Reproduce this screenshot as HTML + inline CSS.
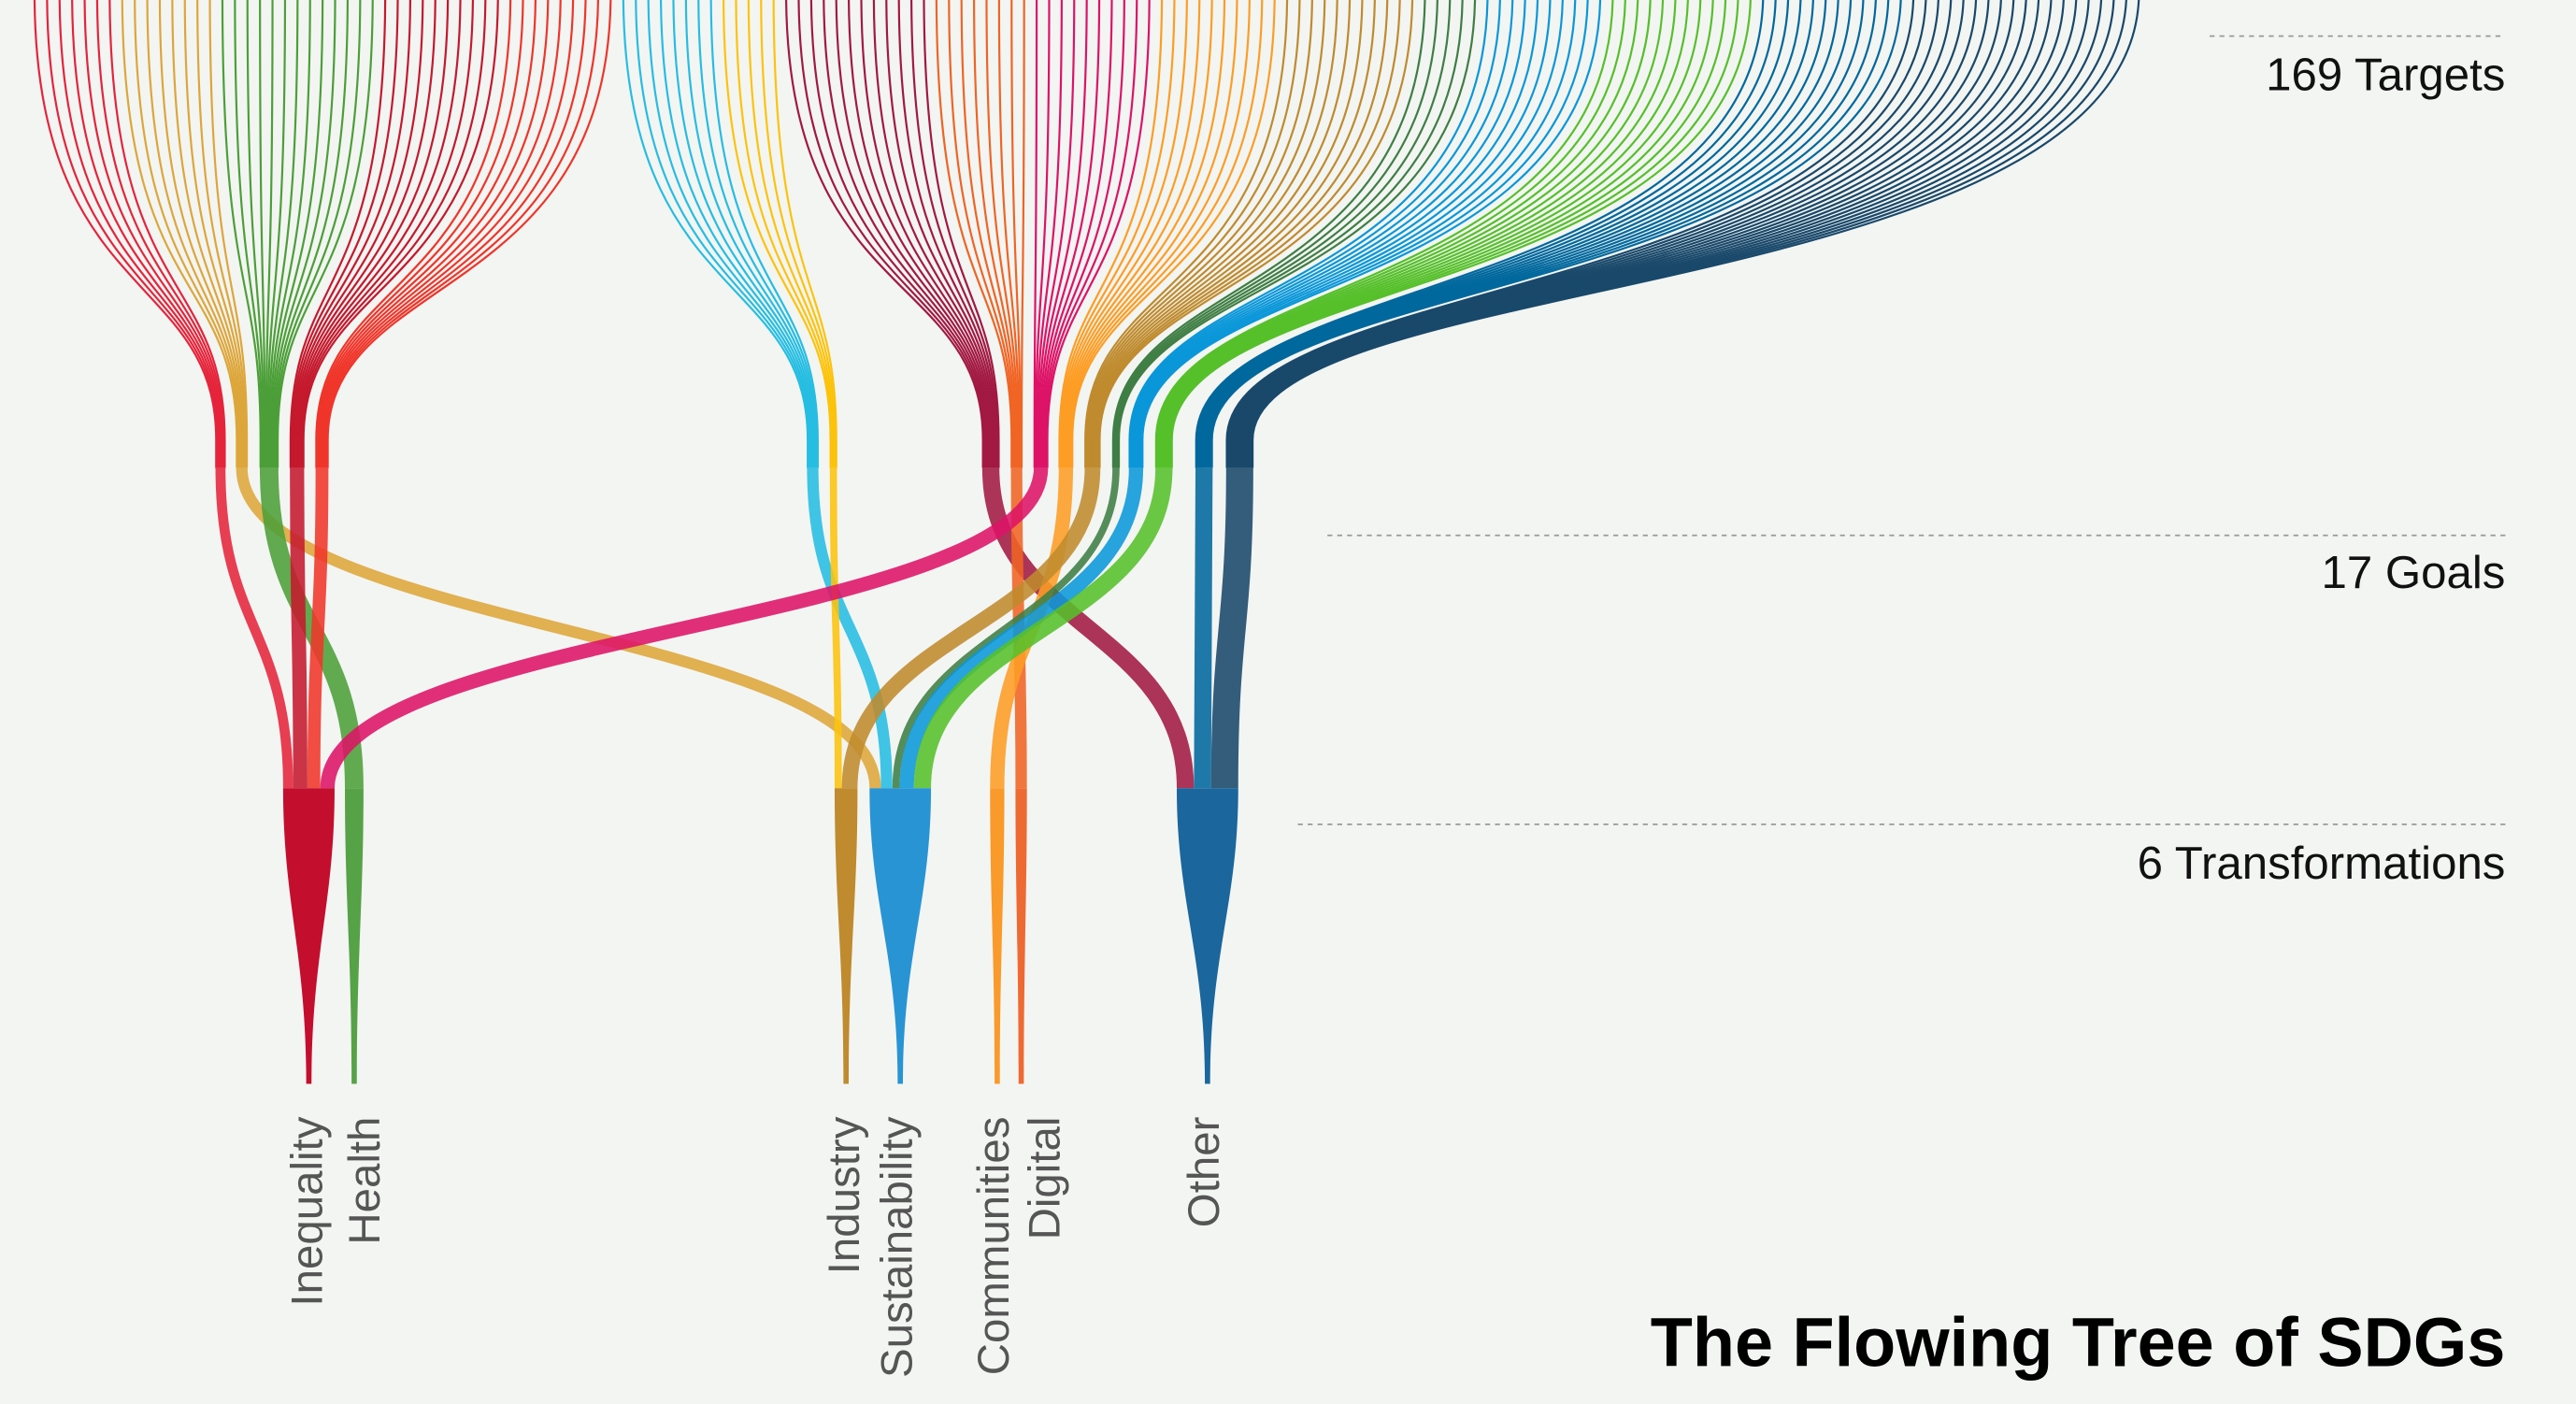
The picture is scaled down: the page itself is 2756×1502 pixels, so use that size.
<!DOCTYPE html>
<html><head><meta charset="utf-8"><style>
html,body{margin:0;padding:0;background:#f3f5f3;}
svg{display:block;}
text{font-family:"Liberation Sans",sans-serif;}
</style></head><body>
<svg id="chart" width="2756" height="1502" viewBox="0 0 1568 855" preserveAspectRatio="none" xmlns="http://www.w3.org/2000/svg">
<rect x="0" y="0" width="1568" height="855" fill="#f3f5f3"/>
<g id="targets"></g>
<g id="goals"></g>
<g id="transforms"></g>
<g id="labels"></g>
<line x1="1345" y1="22" x2="1525" y2="22" stroke="#999" stroke-width="1" stroke-dasharray="3,3"/>
<line x1="808" y1="326" x2="1525" y2="326" stroke="#999" stroke-width="1" stroke-dasharray="3,3"/>
<line x1="790" y1="502" x2="1525" y2="502" stroke="#999" stroke-width="1" stroke-dasharray="3,3"/>
<text x="1525" y="55" text-anchor="end" font-size="28" fill="#111">169 Targets</text>
<text x="1525" y="358" text-anchor="end" font-size="28" fill="#111">17 Goals</text>
<text x="1525" y="535" text-anchor="end" font-size="28" fill="#111">6 Transformations</text>
<text x="1525" y="832" text-anchor="end" font-size="42" font-weight="bold" fill="#000">The Flowing Tree of SDGs</text>
</svg>
<script>
// data
const goalNames = ["Goal 1","Goal 2","Goal 3","Goal 4","Goal 5","Goal 6","Goal 7","Goal 8","Goal 9","Goal 10","Goal 11","Goal 12","Goal 13","Goal 14","Goal 15","Goal 16","Goal 17"];
const targetCounts = [7,8,13,10,9,8,5,12,8,10,10,11,5,10,12,12,19];
const goalTransform = [0,3,1,0,0,3,2,6,5,0,4,2,3,3,3,6,6];
const transformNames = ["Inequality","Health","Industry","Sustainability","Communities","Digital","Other"];
// styling / layout
const goalColors = ["#E5243B","#DDA63A","#4C9F38","#C5192D","#F0352A","#26BDE2","#FCC30B","#A21942","#F06424","#DD1367","#FD9D24","#BF8B2E","#3F7E44","#0A97D9","#56C02B","#00689D","#19486A"];
const goalLayoutX = [134.2,147.2,163.8,180.8,196,494.7,507.3,603.1,618.8,633.6,648.8,665,679.3,691.5,708.5,732.9,754.6];
const transformLayoutX = [188,215.6,515,548,607,621.6,735];
const transformColors = ["#C40E2E","#56A247","#BF8B2E","#2894D4","#F99A2A","#EE6A33","#1A669D"];
const labelLayoutX = [187,222,514,546,605,636,733];

const NS = "http://www.w3.org/2000/svg";
const K = 0.87, TX0 = 21, TSTEP = 7.625;
const yTop = -5, yConv = 268, yGoal = 285, yTrans = 480, yEnd = 660;
const gT = document.getElementById('targets');
const gG = document.getElementById('goals');
const gW = document.getElementById('transforms');
const gL = document.getElementById('labels');

// targets
let idx = 0;
targetCounts.forEach((n, g) => {
  const gx = goalLayoutX[g];
  for (let j = 0; j < n; j++) {
    const tx = TX0 + idx * TSTEP;
    const ex = gx - (n - 1) / 2 * K + j * K;
    const cy1 = yTop + 0.7 * (yConv - yTop);
    const cy2 = yTop + 0.62 * (yConv - yTop);
    const p = document.createElementNS(NS, 'path');
    p.setAttribute('d', `M${tx},${yTop} C${tx},${cy1} ${ex},${cy2} ${ex},${yConv} L${ex},${yGoal}`);
    p.setAttribute('fill', 'none');
    p.setAttribute('stroke', goalColors[g]);
    p.setAttribute('stroke-width', '1.25');
    
    
    gT.appendChild(p);
    idx++;
  }
});

// goals -> transformations
const entryX = new Array(goalNames.length);
transformNames.forEach((t, ti) => {
  const members = goalTransform.map((tt, g) => tt === ti ? g : -1).filter(g => g >= 0).sort((a, b) => goalLayoutX[a] - goalLayoutX[b]);
  const W = members.reduce((s, g) => s + targetCounts[g] * K, 0);
  let cum = transformLayoutX[ti] - W / 2;
  members.forEach(g => { entryX[g] = cum + targetCounts[g] * K / 2; cum += targetCounts[g] * K; });
  const cx = transformLayoutX[ti], l = cx - W / 2, r = cx + W / 2, b = 1.6;
  const w = document.createElementNS(NS, 'path');
  w.setAttribute('d', `M${l},${yTrans} L${r},${yTrans} C${r},${yTrans+70} ${cx+b},${yEnd-80} ${cx+b},${yEnd} L${cx-b},${yEnd} C${cx-b},${yEnd-80} ${l},${yTrans+70} ${l},${yTrans} Z`);
  w.setAttribute('fill', transformColors[ti]);
  
  
  gW.appendChild(w);
  const tx = document.createElementNS(NS, 'text');
  tx.setAttribute('x', labelLayoutX[ti] + 9);
  tx.setAttribute('y', 680);
  tx.setAttribute('transform', `rotate(-90 ${labelLayoutX[ti] + 9} 680)`);
  tx.setAttribute('text-anchor', 'end');
  tx.setAttribute('font-size', '27');
  tx.setAttribute('fill', '#555');
  tx.textContent = t;
  
  
  gL.appendChild(tx);
});

goalNames.forEach((nm, g) => {
  const gx = goalLayoutX[g], ex = entryX[g];
  const my = (yGoal + yTrans) / 2;
  const p = document.createElementNS(NS, 'path');
  p.setAttribute('d', `M${gx},${yGoal} C${gx},${my} ${ex},${my} ${ex},${yTrans}`);
  p.setAttribute('fill', 'none');
  p.setAttribute('stroke', goalColors[g]);
  p.setAttribute('stroke-width', targetCounts[g] * K);
  p.setAttribute('stroke-opacity', '0.88');
  
  
  gG.appendChild(p);
});
</script>
</body></html>
